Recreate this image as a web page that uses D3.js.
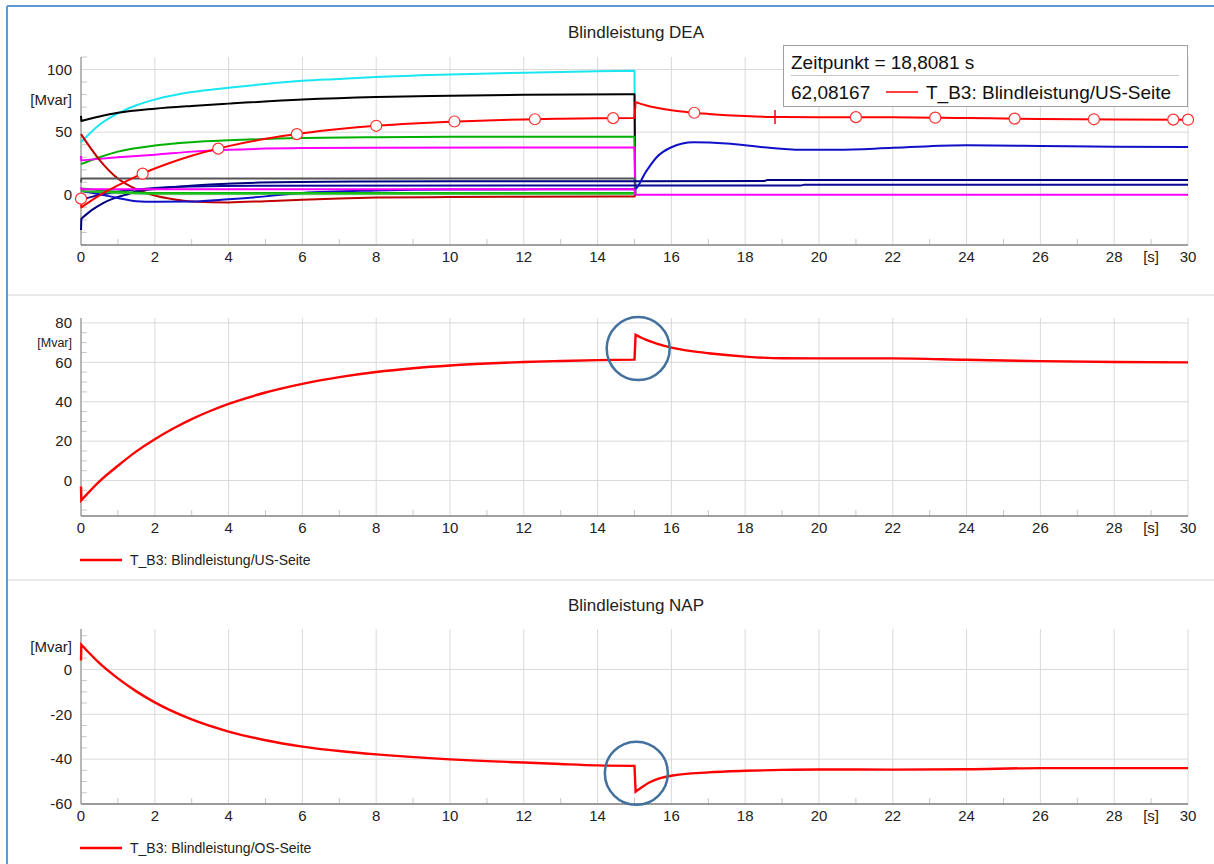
<!DOCTYPE html>
<html><head><meta charset="utf-8">
<script src="https://cdn.jsdelivr.net/npm/d3@7"></script>
<style>
body{margin:0;background:#fff;}
svg{display:block;font-family:"Liberation Sans",Arial,sans-serif;}
</style>
</head><body>
<svg id="c" width="1214" height="864"></svg>
<script>
// ---------- data ----------
const xLabels = [0,2,4,6,8,10,12,14,16,18,20,22,24,26,28,30];
const xUnitLabel = "[s]";
const xUnitAt = 29;

const topTitle = "Blindleistung DEA";
const bottomTitle = "Blindleistung NAP";
const topMajor = [0,50,100];
const midMajor = [0,20,40,60,80];
const botMajor = [-60,-40,-20,0];

// Top panel series (t [s], Q [Mvar])
const cyanS = [[0,42],[0.5,56],[1,65],[1.5,71.5],[2,76],[3,82],[4,85.5],[5,88.5],[6,91],[7,92.5],[8,94],[10,96],[12,97.5],[14,98.6],[15,99],[15.02,0]];
const blackS = [[0,63],[0.01,59],[0.5,62.5],[1,65.5],[2,68.8],[3,71],[4,72.8],[6,76],[8,78],[10,79],[12,79.8],[15,80.3],[15.02,0]];
const greenUp = [[0,24.5],[0.5,30],[1,34.5],[2,39.4],[3,42],[4,43.5],[6,45.3],[8,46],[10,46.3],[15,46.4],[15.02,0]];
const magentaUp = [[0,31],[0.01,27.5],[1,30],[2,32],[3,34.5],[4,36],[6,37.3],[8,37.6],[15,37.8],[15.02,0],[30,0]];
const darkRedS = [[0,48.5],[0.5,28],[1,13],[1.5,4.5],[2,-0.5],[2.5,-3.5],[3,-5.3],[4,-6],[5,-5],[6,-3.8],[7,-2.8],[8,-2.2],[10,-1.8],[12,-1.5],[15,-1.3],[15.02,0]];
const grayS = [[0,10],[0.01,13],[15,13],[15.02,0]];
const navyA = [[0,-28],[0.01,-19],[0.3,-12],[0.6,-6.5],[0.87,-3],[1.2,0],[1.5,2.7],[2,4.7],[2.7,6.7],[3.5,8.3],[4.85,9.8],[7.5,10.6],[10,10.8],[15,10.8],[18.5,11],[18.6,11.8],[30,11.8]];
const navyC = [[0,-4],[0.5,0],[1,2.5],[1.5,4.2],[2,5.5],[3,6.7],[5,7.3],[15,7.5],[19.5,7.5],[19.6,8],[30,8]];
const blueB = [[0,3],[0.5,0.5],[1,-2.5],[1.5,-5],[2,-5.5],[3,-5.3],[4,-3.5],[5,-1.2],[5.4,0],[6,1.5],[8,3.5],[10,4.3],[15,4.5],[15.3,18],[15.6,30],[16,38],[16.6,42],[17.5,41],[18.5,38],[19.5,36],[20.5,36],[22,37.5],[24,39.5],[26,39],[28,38.3],[30,38.2]];
const magentaLow = [[0,6],[0.01,4.5],[15,4.5],[15.02,0]];
const greenLow1 = [[0,5],[1,2.5],[2,1.5],[15,1.5],[15.02,0]];
const greenLow2 = [[0,3],[2,0.8],[15,0.8],[15.02,0]];

// T_B3: Blindleistung/US-Seite
const usSeite = [[0,-3],[0.01,-10],[0.5,-0.4],[1,7.5],[1.5,14.8],[2,21],[2.5,26.4],[3,31.2],[3.5,35.3],[4,38.9],[5,44.7],[6,49.1],[7,52.5],[8,55.1],[9,57.0],[10,58.4],[11,59.4],[12,60.2],[13,60.7],[14,61.1],[15,61.4],[15.03,74],[15.3,71.5],[15.6,69.5],[16,67.5],[16.5,65.8],[17,64.6],[18,62.9],[19,62.05],[20,62],[22,62],[24,61.3],[26,60.6],[28,60.2],[30,60]];
// T_B3: Blindleistung/OS-Seite
const osSeite = [[0,4],[0.01,11],[0.5,2.8],[1,-4],[1.5,-9.8],[2,-14.7],[3,-22.3],[4,-27.7],[5,-31.6],[6,-34.4],[7,-36.4],[8,-37.9],[10,-40.1],[11,-40.9],[12,-41.5],[13,-42.2],[14,-42.8],[15,-43],[15.03,-54.5],[15.2,-52.5],[15.4,-50.4],[15.7,-48.5],[16,-47.4],[17,-45.9],[18,-45.2],[19,-44.8],[20,-44.6],[22,-44.7],[24,-44.5],[26,-44],[28,-44],[30,-44]];

const markerTimes = [0,1.67,3.72,5.85,8.0,10.12,12.3,14.42,16.62,21.0,23.15,25.3,27.45,29.6,30];
const cursorT = 18.8081, cursorV = 62.08167;
const legendUS = "T_B3: Blindleistung/US-Seite";
const legendOS = "T_B3: Blindleistung/OS-Seite";
const midHighlight = [15.1, 67];
const botHighlight = [15.05, -46.3];

// ---------- drawing ----------
const svg = d3.select("#c");
const X0 = 81, X1 = 1188;
const x = d3.scaleLinear().domain([0,30]).range([X0,X1]);

svg.append("rect").attr("x",0).attr("y",0).attr("width",1214).attr("height",864).attr("fill","#fff");
svg.append("line").attr("x1",7).attr("x2",1214).attr("y1",6).attr("y2",6).attr("stroke","#5b9bd5").attr("stroke-width",2);
svg.append("line").attr("x1",7).attr("x2",7).attr("y1",6).attr("y2",864).attr("stroke","#5b9bd5").attr("stroke-width",2);
[295,580].forEach(yy=>svg.append("line").attr("x1",8).attr("x2",1214).attr("y1",yy).attr("y2",yy).attr("stroke","#d4d4d4").attr("stroke-width",1));

function panel(cfg){
  const y = d3.scaleLinear().domain(cfg.domain).range([cfg.bottom, cfg.top]);
  const g = svg.append("g");
  g.selectAll(".vg").data(xLabels).enter().append("line")
    .attr("x1",d=>x(d)).attr("x2",d=>x(d)).attr("y1",cfg.top).attr("y2",cfg.bottom)
    .attr("stroke","#d9d9d9").attr("stroke-width",1);
  g.selectAll(".hg").data(cfg.major).enter().append("line")
    .attr("x1",X0).attr("x2",X1).attr("y1",d=>y(d)).attr("y2",d=>y(d))
    .attr("stroke","#d9d9d9").attr("stroke-width",1);
  const minor = d3.range(Math.ceil(cfg.domain[0]/cfg.minorStep)*cfg.minorStep, cfg.domain[1]+0.001, cfg.minorStep)
     .filter(v=>!cfg.major.includes(v));
  g.selectAll(".my").data(minor).enter().append("line")
    .attr("x1",X0).attr("x2",X0+6).attr("y1",d=>y(d)).attr("y2",d=>y(d))
    .attr("stroke","#c8c8c8").attr("stroke-width",1);
  g.selectAll(".mx").data(d3.range(1,30,2)).enter().append("line")
    .attr("x1",d=>x(d)).attr("x2",d=>x(d)).attr("y1",cfg.bottom).attr("y2",cfg.bottom-6)
    .attr("stroke","#c8c8c8").attr("stroke-width",1);
  g.append("line").attr("x1",X0).attr("x2",X0).attr("y1",cfg.top).attr("y2",cfg.bottom).attr("stroke","#a6a6a6").attr("stroke-width",1.5);
  g.append("line").attr("x1",X0).attr("x2",X1).attr("y1",cfg.bottom).attr("y2",cfg.bottom).attr("stroke","#808080").attr("stroke-width",1.5);
  g.selectAll(".xl").data(xLabels).enter().append("text")
    .attr("x",d=>x(d)).attr("y",cfg.bottom+17).attr("text-anchor","middle")
    .attr("font-size",15).attr("fill","#222").text(d=>d);
  g.append("text").attr("x",x(xUnitAt)).attr("y",cfg.bottom+17).attr("text-anchor","middle")
    .attr("font-size",15).attr("fill","#222").text(xUnitLabel);
  g.selectAll(".yl").data(cfg.major).enter().append("text")
    .attr("x",72).attr("y",d=>y(d)).attr("dy","0.35em").attr("text-anchor","end")
    .attr("font-size",15).attr("fill","#222").text(d=>d);
  g.append("text").attr("x",72).attr("y",y(cfg.unitAt)).attr("dy","0.35em").attr("text-anchor","end")
    .attr("font-size",cfg.unitSize).attr("fill","#222").text("[Mvar]");
  if(cfg.title) svg.append("text").attr("x",636).attr("y",cfg.titleY).attr("dy","0.35em").attr("text-anchor","middle")
    .attr("font-size",17).attr("fill","#222").text(cfg.title);
  const clip = "clip"+cfg.top;
  svg.append("clipPath").attr("id",clip).append("rect").attr("x",X0-8).attr("y",cfg.top-4).attr("width",X1-X0+16).attr("height",cfg.bottom-cfg.top+4);
  const lg = svg.append("g").attr("clip-path",`url(#${clip})`);
  return {y, lg};
}

// smooth segments joined by straight jumps (discontinuities where dt is tiny)
function pathFor(data, y){
  const gen = d3.line().x(d=>x(d[0])).y(d=>y(d[1])).curve(d3.curveMonotoneX);
  const segs = [[data[0]]];
  for(let i=1;i<data.length;i++){
    if(data[i][0]-data[i-1][0] < 0.05) segs.push([data[i]]);
    else segs[segs.length-1].push(data[i]);
  }
  return segs.map((s,k)=>{
    let p = s.length>1 ? gen(s) : `M${x(s[0][0])},${y(s[0][1])}`;
    return k===0 ? p : "L"+p.slice(1);
  }).join("");
}

// ----- top panel -----
const P1 = panel({top:57,bottom:245,domain:[-40,110],major:topMajor,minorStep:10,unitAt:76,unitSize:15,title:topTitle,titleY:32});
const topSeries = [
  [cyanS,"#19e6f0"],[blackS,"#000000"],[greenUp,"#00b000"],[magentaUp,"#ff00ff"],
  [darkRedS,"#c00000"],[grayS,"#555555"],[navyA,"#000080"],[navyC,"#0a0a96"],[blueB,"#1010c8"],
  [greenLow1,"#00b400"],[greenLow2,"#20c020"],[magentaLow,"#ff00ff"],[usSeite,"#ff0000"]
];
topSeries.forEach(([d,c])=>{
  P1.lg.append("path").attr("d",pathFor(d,P1.y)).attr("fill","none").attr("stroke",c).attr("stroke-width",2).attr("stroke-linejoin","round");
});
function interp(series,t){
  const i = d3.bisector(d=>d[0]).right(series,t);
  if(i<=0) return series[0][1];
  if(i>=series.length) return series[series.length-1][1];
  const a=series[i-1], b=series[i];
  return a[1]+(b[1]-a[1])*(t-a[0])/(b[0]-a[0]);
}
P1.lg.selectAll(".mk").data(markerTimes).enter().append("circle")
  .attr("cx",d=>x(d)).attr("cy",d=>P1.y(d===0?usSeite[0][1]:interp(usSeite,d))).attr("r",5.5)
  .attr("fill","#fff").attr("stroke","#ff3030").attr("stroke-width",1.2);
const cx = x(cursorT), cy = P1.y(cursorV);
svg.append("line").attr("x1",cx-8).attr("x2",cx+8).attr("y1",cy).attr("y2",cy).attr("stroke","#ff0000").attr("stroke-width",1.5);
svg.append("line").attr("x1",cx).attr("x2",cx).attr("y1",cy-7).attr("y2",cy+7).attr("stroke","#ff0000").attr("stroke-width",1.5);
const lb = svg.append("g");
lb.append("rect").attr("x",783.5).attr("y",45.5).attr("width",404).attr("height",61).attr("fill","#fff").attr("stroke","#a0a0a0");
lb.append("text").attr("x",791).attr("y",62).attr("dy","0.35em").attr("font-size",19).attr("fill","#111").text(`Zeitpunkt = ${String(cursorT).replace(".",",")} s`);
lb.append("line").attr("x1",791).attr("x2",1179).attr("y1",75.5).attr("y2",75.5).attr("stroke","#c8c8c8");
lb.append("text").attr("x",791).attr("y",92).attr("dy","0.35em").attr("font-size",19).attr("fill","#111").text(String(cursorV).replace(".",","));
lb.append("line").attr("x1",886).attr("x2",918).attr("y1",92).attr("y2",92).attr("stroke","#ff0000").attr("stroke-width",1.5);
lb.append("text").attr("x",926).attr("y",92).attr("dy","0.35em").attr("font-size",19).attr("fill","#111").text(legendUS);

// ----- middle panel -----
const P2 = panel({top:318,bottom:516,domain:[-18,82.5],major:midMajor,minorStep:5,unitAt:70,unitSize:12.5});
P2.lg.append("path").attr("d",pathFor(usSeite,P2.y)).attr("fill","none").attr("stroke","#ff0000").attr("stroke-width",2.4);
svg.append("circle").attr("cx",x(midHighlight[0])).attr("cy",P2.y(midHighlight[1])).attr("r",31.5)
  .attr("fill","none").attr("stroke","#41719c").attr("stroke-width",2.5);
svg.append("line").attr("x1",80).attr("x2",122).attr("y1",560).attr("y2",560).attr("stroke","#ff0000").attr("stroke-width",2.4);
svg.append("text").attr("x",130).attr("y",560).attr("dy","0.35em").attr("font-size",14).attr("fill","#222").text(legendUS);

// ----- bottom panel -----
const P3 = panel({top:629,bottom:804,domain:[-60,18],major:botMajor,minorStep:5,unitAt:10,unitSize:15,title:bottomTitle,titleY:605});
P3.lg.append("path").attr("d",pathFor(osSeite,P3.y)).attr("fill","none").attr("stroke","#ff0000").attr("stroke-width",2.4);
svg.append("circle").attr("cx",x(botHighlight[0])).attr("cy",P3.y(botHighlight[1])).attr("r",31.5)
  .attr("fill","none").attr("stroke","#41719c").attr("stroke-width",2.5);
svg.append("line").attr("x1",80).attr("x2",122).attr("y1",848).attr("y2",848).attr("stroke","#ff0000").attr("stroke-width",2.4);
svg.append("text").attr("x",130).attr("y",848).attr("dy","0.35em").attr("font-size",14).attr("fill","#222").text(legendOS);
</script>
</body></html>
